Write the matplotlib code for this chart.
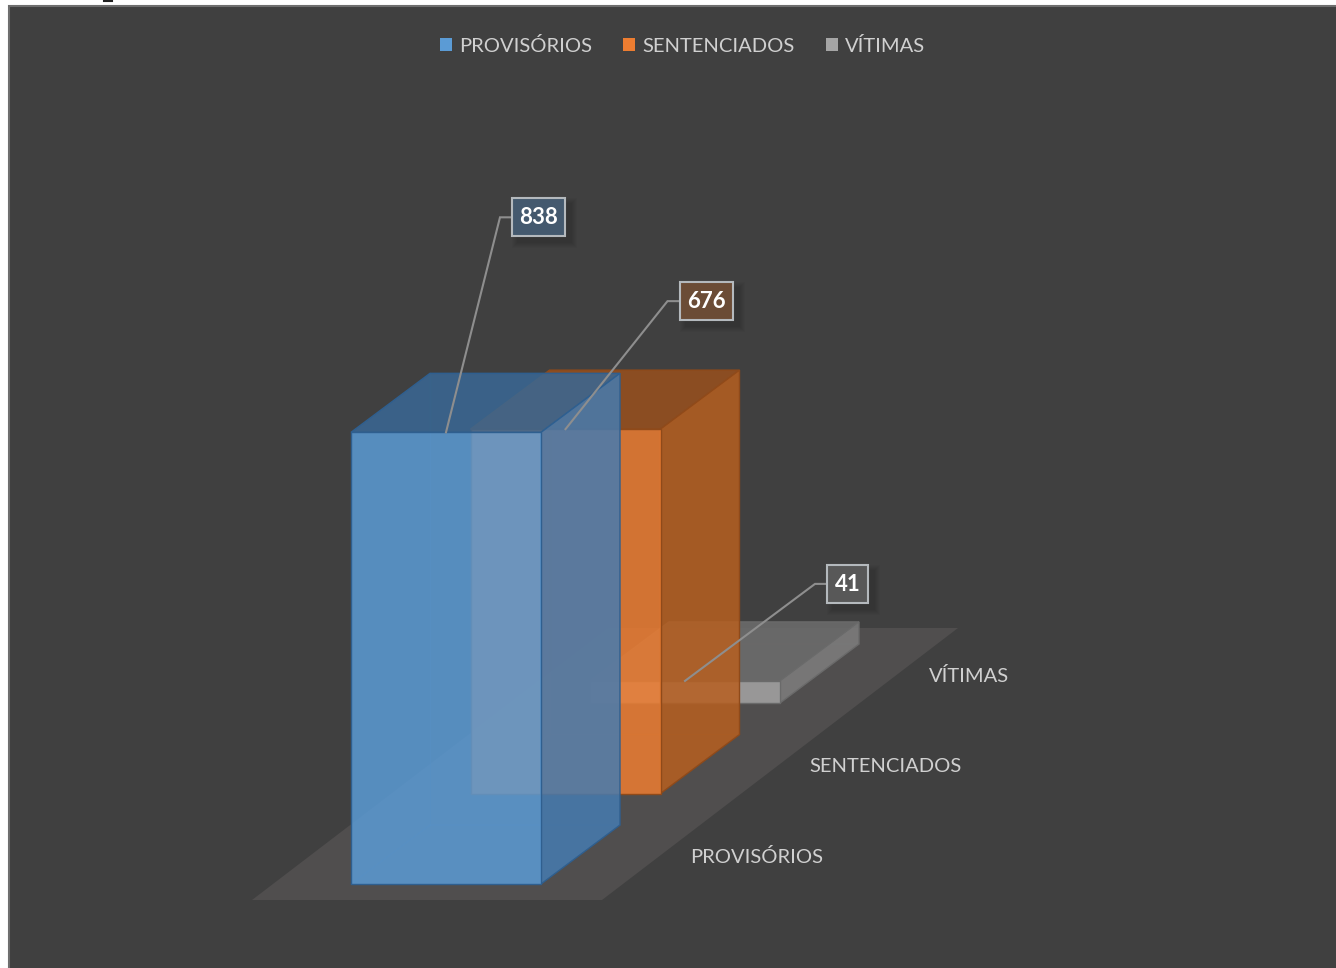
import matplotlib
matplotlib.use("Agg")
import matplotlib.pyplot as plt
from matplotlib.colors import to_rgba
from matplotlib.patches import Polygon, Rectangle, Patch

plt.rcParams["font.family"] = ["Lato", "DejaVu Sans"]

# --- data ---
categories = ["PROVISÓRIOS", "SENTENCIADOS", "VÍTIMAS"]
values = [838, 676, 41]

# --- colours per series: front, side, top, edge ---
front_colors = ["#5B9BD5", "#ED7D31", "#A5A5A5"]
side_colors = ["#467BB0", "#B75F20", "#7E7E7E"]
top_colors = ["#396895", "#99501D", "#6D6D6D"]
edge_colors = ["#2F5F8F", "#8F4A1A", "#6A6A6A"]
label_fills = ["#44596E", "#6B4C36", "#585858"]
FACE_ALPHA = 0.85

# --- fake 3d projection, all in pixels of the 1336x968 picture ---
BASE_X, BASE_Y = 351, 884      # front left corner of first bar
STEP_X, STEP_Y = 119.5, -90.5  # shift from one category to the next
BAR_W = 190
DEPTH_X, DEPTH_Y = 79, -59
PX_PER_UNIT = 0.539

# where the label box sits relative to the bar anchor
label_dx = [66, 114, 142]
label_dy = [-234, -147, -116]
label_w = [53, 53, 41]
ELBOW = 13
LABEL_H = 38

fig = plt.figure(figsize=(13.36, 9.68), dpi=100, facecolor="white")
ax = fig.add_axes([0, 0, 1, 1])
ax.set_xlim(0, 1336)
ax.set_ylim(968, 0)
ax.axis("off")

# chart area
ax.add_patch(Rectangle((9, 6), 1340, 975, facecolor="#404040", edgecolor="#6E6E6E", lw=1.5, zorder=0))
ax.plot([104, 112], [0.5, 0.5], color="#222222", lw=1.5, zorder=0)  # cut off glyph above the chart

# floor
n = len(categories)
fx0, fy0 = BASE_X - 99, BASE_Y + 16
floor_w = 350
far_x = fx0 + 356
far_y = fy0 - 272
ax.add_patch(Polygon([(fx0, fy0), (fx0 + floor_w, fy0), (far_x + floor_w, far_y), (far_x, far_y)],
                     facecolor="#504E4E", edgecolor="none", zorder=1))


def draw_bar(i, z):
    x = BASE_X + i * STEP_X
    y = BASE_Y + i * STEP_Y
    h = values[i] * PX_PER_UNIT
    top = y - h
    fc = to_rgba(front_colors[i], FACE_ALPHA)
    sc = to_rgba(side_colors[i], FACE_ALPHA)
    tc = to_rgba(top_colors[i], FACE_ALPHA)
    ec = edge_colors[i]
    # faint hidden edges at the back
    hidden = to_rgba(ec, 0.25)
    bx, by = x + DEPTH_X, y + DEPTH_Y
    ax.plot([bx, bx], [by, by - h], color=hidden, lw=1, zorder=z)
    ax.plot([x, bx, bx + BAR_W], [y, by, by], color=hidden, lw=1, zorder=z)
    ax.add_patch(Polygon([(x, top), (x + BAR_W, top), (x + BAR_W + DEPTH_X, top + DEPTH_Y), (x + DEPTH_X, top + DEPTH_Y)],
                         facecolor=tc, edgecolor=ec, lw=1.0, zorder=z))
    ax.add_patch(Polygon([(x + BAR_W, top), (x + BAR_W + DEPTH_X, top + DEPTH_Y),
                          (x + BAR_W + DEPTH_X, y + DEPTH_Y), (x + BAR_W, y)],
                         facecolor=sc, edgecolor=ec, lw=1.0, zorder=z))
    ax.add_patch(Rectangle((x, top), BAR_W, h, facecolor=fc, edgecolor=ec, lw=1.0, zorder=z))


# back to front so the nearer bars cover the far ones
for i in reversed(range(n)):
    draw_bar(i, 2 + (n - i))

# category labels on the floor
for i, cat in enumerate(categories):
    ax.text(690 + i * STEP_X, 857 + i * STEP_Y, cat, color="#D0D0D0", fontsize=14.5,
            va="center", ha="left", zorder=6)

# value labels with leader lines
for i, val in enumerate(values):
    ax_x = BASE_X + i * STEP_X + BAR_W / 2
    ax_y = BASE_Y + i * STEP_Y - val * PX_PER_UNIT
    lx = ax_x + label_dx[i]
    ly = ax_y + label_dy[i]
    ax.plot([ax_x, lx - ELBOW + 1, lx], [ax_y, ly + LABEL_H / 2, ly + LABEL_H / 2],
            color="#8E8E8E", lw=1.5, zorder=7, solid_joinstyle="miter")
    # soft shadow
    for s in range(1, 7):
        ax.add_patch(Rectangle((lx + 6 - s, ly + 6 - s), label_w[i] + 2 * s, LABEL_H + 2 * s,
                               facecolor="#000000", alpha=0.018, edgecolor="none", zorder=7))
    ax.add_patch(Rectangle((lx, ly), label_w[i], LABEL_H, facecolor=label_fills[i],
                           edgecolor="#B4B9BD", lw=1.5, zorder=8))
    ax.text(lx + label_w[i] / 2, ly + LABEL_H / 2 + 0.5, str(val), color="white", fontsize=16,
            fontweight="bold", ha="center", va="center", zorder=9)

# legend
handles = [Patch(facecolor=front_colors[i], edgecolor="none", label=categories[i]) for i in range(n)]
leg = ax.legend(handles=handles, ncol=3, loc="center", bbox_to_anchor=(682.5 / 1336, 1 - 45.5 / 968),
                frameon=False, fontsize=14.5, labelcolor="#D0D0D0", borderpad=0, borderaxespad=0,
                handlelength=0.6, handleheight=0.6, handletextpad=0.35, columnspacing=1.55)

fig.savefig("out.png", dpi=100, facecolor="white")
